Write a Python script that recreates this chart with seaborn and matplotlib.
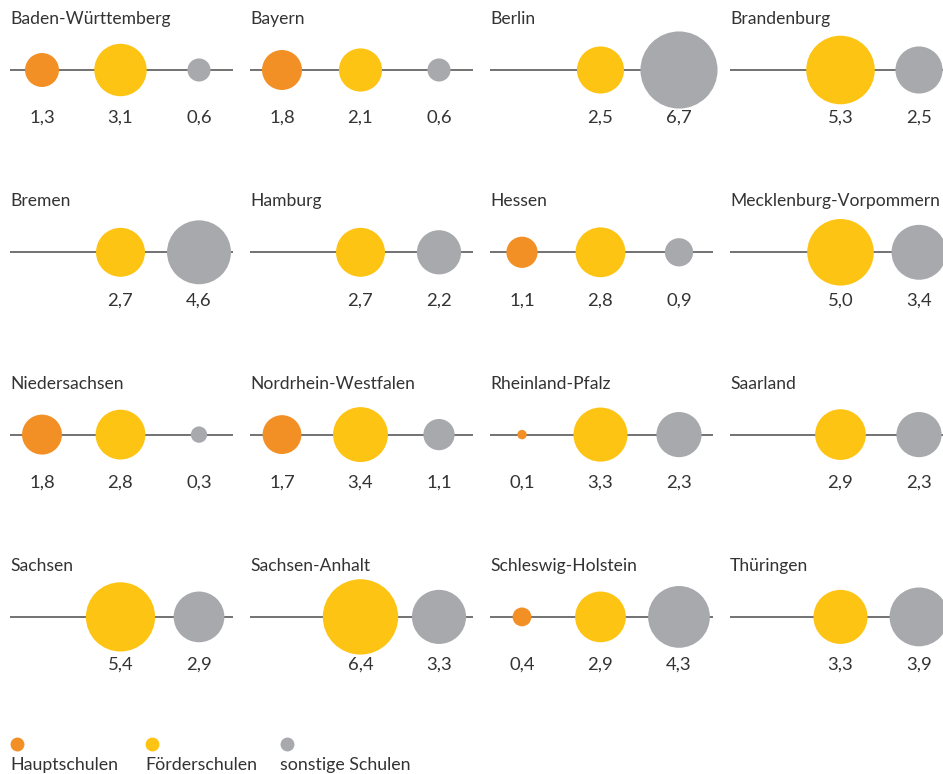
import matplotlib
matplotlib.use('Agg')
import matplotlib.pyplot as plt
import seaborn as sns
import pandas as pd
import numpy as np

laender = ['Baden-Württemberg', 'Bayern', 'Berlin', 'Brandenburg',
           'Bremen', 'Hamburg', 'Hessen', 'Mecklenburg-Vorpommern',
           'Niedersachsen', 'Nordrhein-Westfalen', 'Rheinland-Pfalz', 'Saarland',
           'Sachsen', 'Sachsen-Anhalt', 'Schleswig-Holstein', 'Thüringen']
schularten = ['Hauptschulen', 'Förderschulen', 'sonstige Schulen']
hauptschulen = [1.3, 1.8, None, None, None, None, 1.1, None,
                1.8, 1.7, 0.1, None, None, None, 0.4, None]
foerderschulen = [3.1, 2.1, 2.5, 5.3, 2.7, 2.7, 2.8, 5.0,
                  2.8, 3.4, 3.3, 2.9, 5.4, 6.4, 2.9, 3.3]
sonstige = [0.6, 0.6, 6.7, 2.5, 4.6, 2.2, 0.9, 3.4,
            0.3, 1.1, 2.3, 2.3, 2.9, 3.3, 4.3, 3.9]

farben = {'Hauptschulen': '#F39025', 'Förderschulen': '#FDC414', 'sonstige Schulen': '#A8A9AC'}

rows = []
for i, land in enumerate(laender):
    for art, werte in zip(schularten, [hauptschulen, foerderschulen, sonstige]):
        if werte[i] is not None:
            rows.append({'Land': land, 'Schulart': art, 'pos': schularten.index(art), 'Wert': werte[i]})
df = pd.DataFrame(rows)

sns.set_theme(style='white')
plt.rcParams['font.family'] = ['Lato', 'DejaVu Sans']
textfarbe = '#333333'

W, H = 943, 774
fig = plt.figure(figsize=(W / 100, H / 100), dpi=100)

# Fläche ~ Wert: radius px = 14.9*sqrt(v) -> s (pt^2) ~ 460*v
s_max = 460 * 6.7

col_x = [10, 250, 490, 730]
line_y = [70 + 182.3 * r for r in range(4)]
pw, ph = 223, 120
step = 78.5

for i, land in enumerate(laender):
    r, c = divmod(i, 4)
    left = col_x[c]
    bottom = H - line_y[r] - ph / 2
    ax = fig.add_axes([left / W, bottom / H, pw / W, ph / H])
    x0 = -32 / step
    ax.set_xlim(x0, x0 + pw / step)
    ax.set_ylim(-ph / 2, ph / 2)
    ax.axhline(0, color='#5a5a5a', lw=1.2, zorder=1)
    sub = df[df['Land'] == land]
    sns.scatterplot(data=sub, x='pos', y=np.zeros(len(sub)), hue='Schulart', palette=farben,
                    size='Wert', sizes=(0, s_max), size_norm=(0, 6.7), linewidth=0,
                    legend=False, ax=ax, zorder=3, clip_on=False, alpha=1)
    for _, row in sub.iterrows():
        ax.text(row['pos'], -48, f"{row['Wert']:.1f}".replace('.', ','), ha='center', va='center',
                fontsize=13.3, color=textfarbe)
    ax.text(x0, 51, land, ha='left', va='center', fontsize=12.6, color=textfarbe)
    ax.set_axis_off()

# Legende
lax = fig.add_axes([0, 0, 1, 60 / H])
lax.set_xlim(0, W)
lax.set_ylim(0, 60)
lax.set_axis_off()
leg_x = [10, 145, 280]
for art, lx in zip(schularten, leg_x):
    lax.scatter(lx + 7, 30, s=100, color=farben[art], linewidth=0, clip_on=False)
    lax.text(lx, 9, art, ha='left', va='center', fontsize=12.8, color=textfarbe)

fig.savefig('out.png', dpi=100, facecolor='white')
